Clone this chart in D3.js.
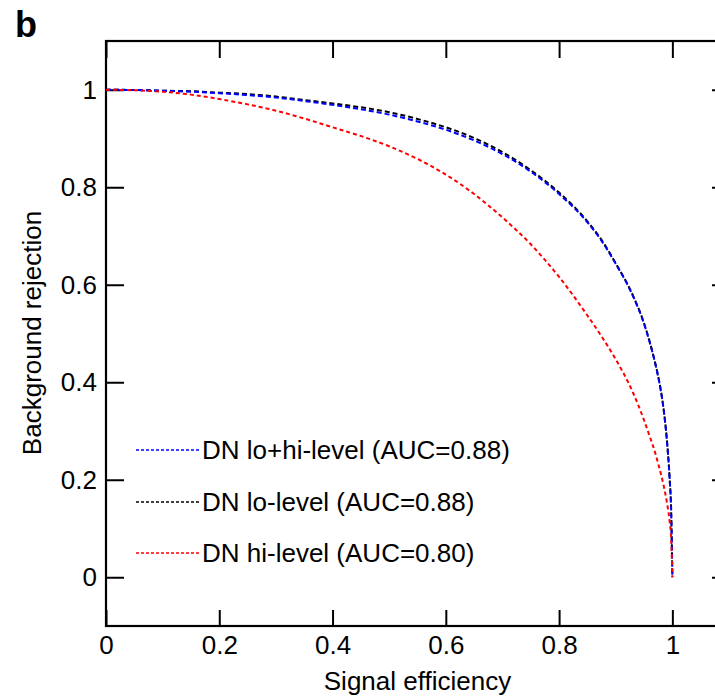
<!DOCTYPE html>
<html>
<head>
<meta charset="utf-8">
<script src="https://cdn.jsdelivr.net/npm/d3@7"></script>
<style>
  body { margin: 0; background: #fff; }
  text { font-family: "Liberation Sans", Arial, Helvetica, sans-serif; fill: #000; }
</style>
</head>
<body>
<div id="chart"></div>
<script>
'use strict';

// signal efficiency grid shared by the three curves
var effGrid = [0, 0.05, 0.1, 0.15, 0.2, 0.25, 0.3, 0.35, 0.4, 0.45, 0.5, 0.55, 0.6,
  0.65, 0.7, 0.75, 0.8, 0.85, 0.875, 0.9, 0.93, 0.95, 0.96, 0.97, 0.975, 0.98, 0.985,
  0.99, 0.995, 0.998, 1];

// background rejection
var rejLoHi = [1, 0.9995, 0.998, 0.996, 0.993, 0.989, 0.984, 0.977, 0.969, 0.960, 0.949, 0.935, 0.918,
  0.896, 0.868, 0.832, 0.786, 0.728, 0.690, 0.643, 0.578, 0.520, 0.482, 0.437, 0.411, 0.380, 0.340,
  0.285, 0.205, 0.13, 0];
var rejLo = [1, 0.9995, 0.998, 0.997, 0.994, 0.991, 0.986, 0.979, 0.972, 0.964, 0.954, 0.940, 0.923,
  0.901, 0.872, 0.835, 0.789, 0.730, 0.692, 0.644, 0.579, 0.521, 0.483, 0.438, 0.412, 0.381, 0.341,
  0.286, 0.206, 0.13, 0];
var rejHi = [1, 0.999, 0.996, 0.990, 0.981, 0.970, 0.957, 0.941, 0.923, 0.905, 0.884, 0.858, 0.826,
  0.786, 0.738, 0.683, 0.616, 0.537, 0.494, 0.447, 0.380, 0.322, 0.289, 0.254, 0.233, 0.211, 0.186,
  0.156, 0.116, 0.075, 0];

var seriesNames = ['DN lo+hi-level (AUC=0.88)', 'DN lo-level (AUC=0.88)', 'DN hi-level (AUC=0.80)'];
var seriesColors = ['#0000ff', '#000000', '#ff0000'];
var tickVals = [0, 0.2, 0.4, 0.6, 0.8, 1];

var W = 715, H = 698;
var margin = { left: 106, top: 41 };
var plotW = 623, plotH = 585;

var svg = d3.select('#chart').append('svg')
  .attr('width', W)
  .attr('height', H);

var x = d3.scaleLinear().domain([0, 1.1]).range([margin.left, margin.left + plotW]);
var y = d3.scaleLinear().domain([-0.1, 1.1]).range([margin.top + plotH, margin.top]);

var fmt = function (d) { return d === 0 ? '0' : d === 1 ? '1' : d3.format('.1f')(d); };

// axes with inward ticks
var gx = svg.append('g')
  .attr('transform', 'translate(0,' + y(-0.1) + ')')
  .call(d3.axisBottom(x).tickValues(tickVals).tickSize(-16).tickPadding(10).tickFormat(fmt));
var gy = svg.append('g')
  .attr('transform', 'translate(' + x(0) + ',0)')
  .call(d3.axisLeft(y).tickValues(tickVals).tickSize(-18).tickPadding(9).tickFormat(fmt));
var gt = svg.append('g')
  .attr('transform', 'translate(0,' + y(1.1) + ')')
  .call(d3.axisTop(x).tickValues(tickVals).tickSize(-17).tickFormat(''));
var gr = svg.append('g')
  .attr('transform', 'translate(' + x(1.1) + ',0)')
  .call(d3.axisRight(y).tickValues(tickVals).tickSize(-17).tickFormat(''));

[gx, gy, gt, gr].forEach(function (g) {
  g.select('.domain').remove();
  g.selectAll('.tick line').attr('stroke', '#000').attr('stroke-width', 2);
  g.selectAll('.tick text').attr('font-size', 26).attr('font-family', null).attr('fill', '#000');
});

// frame
svg.append('rect')
  .attr('x', x(0))
  .attr('y', y(1.1))
  .attr('width', x(1.1) - x(0))
  .attr('height', y(-0.1) - y(1.1))
  .attr('fill', 'none')
  .attr('stroke', '#000')
  .attr('stroke-width', 2.2);

// curves
var series = [rejLoHi, rejLo, rejHi];
var line = d3.line()
  .x(function (d) { return x(d[0]); })
  .y(function (d) { return y(d[1]); })
  .curve(d3.curveMonotoneX);

var drawOrder = [1, 0, 2];
drawOrder.forEach(function (i) {
  svg.append('path')
    .datum(d3.zip(effGrid, series[i]))
    .attr('fill', 'none')
    .attr('stroke', seriesColors[i])
    .attr('stroke-width', 2)
    .attr('stroke-dasharray', i === 2 ? '4,3' : '5,3')
    .attr('d', line);
});

// legend
var legendY = [450, 502, 553];
seriesNames.forEach(function (name, i) {
  svg.append('line')
    .attr('x1', 136).attr('x2', 199)
    .attr('y1', legendY[i]).attr('y2', legendY[i])
    .attr('stroke', seriesColors[i])
    .attr('stroke-width', 1.3)
    .attr('stroke-dasharray', '3,2');
  svg.append('text')
    .attr('x', 202)
    .attr('y', legendY[i])
    .attr('dy', '0.35em')
    .attr('font-size', 26)
    .text(name);
});

// axis titles
svg.append('text')
  .attr('x', (x(0) + x(1.1)) / 2)
  .attr('y', 690)
  .attr('text-anchor', 'middle')
  .attr('font-size', 26)
  .text('Signal efficiency');

svg.append('text')
  .attr('transform', 'translate(41,' + 333 + ') rotate(-90)')
  .attr('text-anchor', 'middle')
  .attr('font-size', 26)
  .text('Background rejection');

// panel letter
svg.append('text')
  .attr('x', 15)
  .attr('y', 37)
  .attr('font-size', 36)
  .attr('font-weight', 'bold')
  .text('b');
</script>
</body>
</html>
